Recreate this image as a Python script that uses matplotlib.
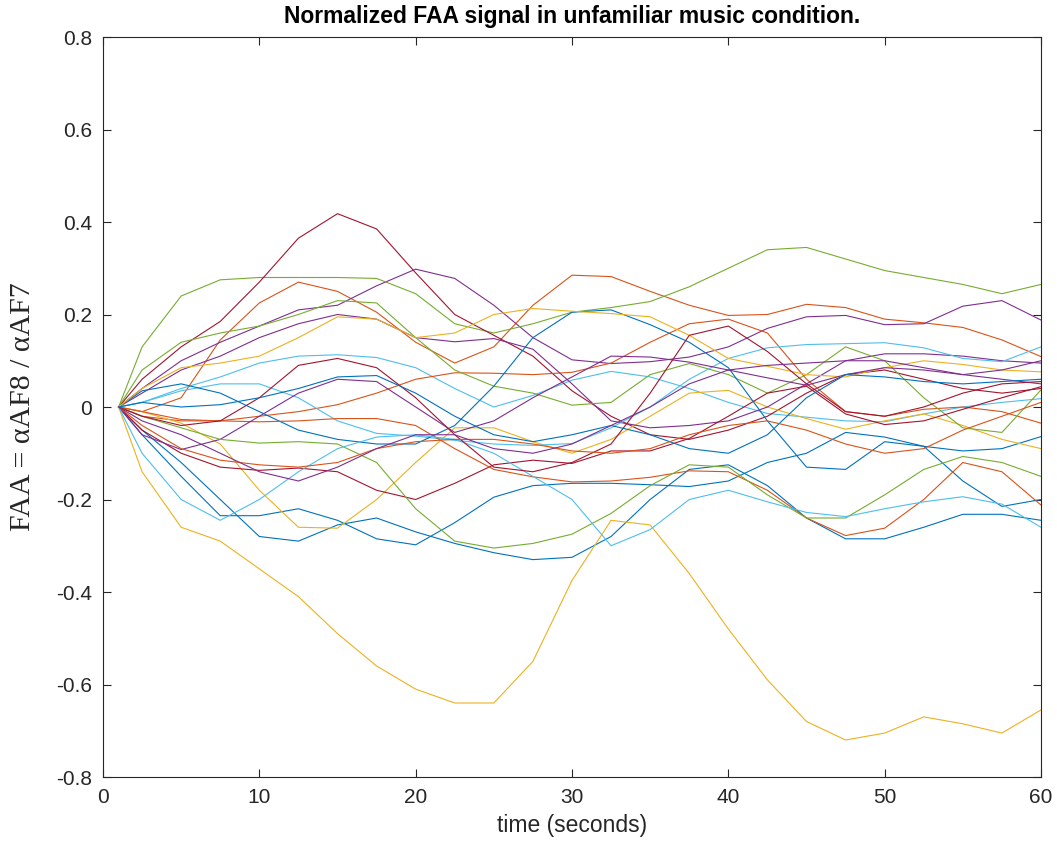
import matplotlib
matplotlib.use("Agg")
import matplotlib.pyplot as plt

# time axis (seconds) and the normalized FAA traces
t = [1, 2.5, 5, 7.5, 10, 12.5, 15, 17.5, 20, 22.5, 25, 27.5, 30,
     32.5, 35, 37.5, 40, 42.5, 45, 47.5, 50, 52.5, 55, 57.5, 60]

blue_1 = [0, -0.05, -0.12, -0.2, -0.28, -0.29, -0.255, -0.24, -0.27, -0.295, -0.315, -0.33, -0.325,
          -0.28, -0.2, -0.135, -0.125, -0.17, -0.24, -0.285, -0.285, -0.26, -0.232, -0.232, -0.245]
blue_2 = [0, -0.06, -0.15, -0.235, -0.235, -0.22, -0.245, -0.285, -0.298, -0.25, -0.195, -0.17, -0.165,
          -0.165, -0.168, -0.172, -0.16, -0.12, -0.1, -0.055, -0.065, -0.085, -0.095, -0.09, -0.064]
blue_3 = [0, 0.035, 0.05, 0.03, -0.01, -0.05, -0.07, -0.08, -0.08, -0.04, 0.045, 0.15, 0.205,
          0.21, 0.178, 0.14, 0.085, -0.03, -0.13, -0.135, -0.075, -0.085, -0.16, -0.215, -0.2]
blue_4 = [0, 0.01, 0.0, 0.005, 0.02, 0.04, 0.065, 0.068, 0.03, -0.02, -0.06, -0.075, -0.06,
          -0.04, -0.06, -0.09, -0.1, -0.06, 0.02, 0.07, 0.065, 0.055, 0.05, 0.055, 0.06]

orange_1 = [0, -0.01, 0.02, 0.145, 0.225, 0.27, 0.25, 0.205, 0.14, 0.095, 0.13, 0.22, 0.285,
            0.282, 0.25, 0.22, 0.198, 0.2, 0.222, 0.215, 0.19, 0.182, 0.172, 0.145, 0.109]
orange_2 = [0, -0.02, -0.03, -0.03, -0.02, -0.01, 0.005, 0.03, 0.06, 0.074, 0.073, 0.07, 0.075,
            0.095, 0.14, 0.18, 0.19, 0.16, 0.06, -0.01, -0.02, -0.005, 0.0, -0.01, -0.035]
orange_3 = [0, -0.01, -0.027, -0.03, -0.032, -0.03, -0.025, -0.025, -0.04, -0.09, -0.135, -0.151, -0.162,
            -0.16, -0.152, -0.138, -0.14, -0.18, -0.24, -0.278, -0.262, -0.2, -0.12, -0.14, -0.212]
orange_4 = [0, -0.04, -0.09, -0.115, -0.125, -0.13, -0.12, -0.09, -0.075, -0.07, -0.07, -0.08, -0.095,
            -0.1, -0.09, -0.06, -0.04, -0.03, -0.05, -0.08, -0.1, -0.09, -0.05, -0.02, 0.01]

yellow_1 = [0, -0.14, -0.26, -0.29, -0.35, -0.41, -0.49, -0.56, -0.61, -0.64, -0.64, -0.55, -0.375,
            -0.245, -0.255, -0.36, -0.48, -0.59, -0.68, -0.72, -0.705, -0.67, -0.685, -0.705, -0.655]
yellow_2 = [0, -0.01, -0.035, -0.08, -0.18, -0.26, -0.262, -0.2, -0.12, -0.045, -0.045, -0.075, -0.1,
            -0.07, -0.02, 0.03, 0.036, 0.0, -0.025, -0.048, -0.03, -0.015, -0.04, -0.07, -0.09]
yellow_3 = [0, 0.04, 0.085, 0.095, 0.11, 0.15, 0.195, 0.19, 0.15, 0.16, 0.2, 0.213, 0.207,
            0.202, 0.195, 0.155, 0.105, 0.088, 0.07, 0.065, 0.085, 0.1, 0.092, 0.08, 0.076]

purple_1 = [0, 0.04, 0.1, 0.14, 0.175, 0.21, 0.22, 0.262, 0.298, 0.278, 0.22, 0.15, 0.102,
            0.094, 0.098, 0.108, 0.13, 0.17, 0.195, 0.198, 0.178, 0.18, 0.218, 0.23, 0.188]
purple_2 = [0, 0.03, 0.08, 0.11, 0.15, 0.18, 0.2, 0.19, 0.15, 0.141, 0.148, 0.125, 0.05,
            -0.03, -0.045, -0.04, -0.03, 0.0, 0.05, 0.1, 0.115, 0.115, 0.11, 0.1, 0.095]
purple_3 = [0, -0.06, -0.092, -0.07, -0.02, 0.03, 0.06, 0.055, 0.0, -0.055, -0.03, 0.02, 0.065,
            0.11, 0.108, 0.097, 0.08, 0.063, 0.047, 0.07, 0.085, 0.08, 0.07, 0.06, 0.05]
purple_4 = [0, -0.03, -0.06, -0.1, -0.14, -0.16, -0.13, -0.09, -0.06, -0.06, -0.09, -0.1, -0.08,
            -0.04, 0.0, 0.05, 0.08, 0.09, 0.095, 0.1, 0.1, 0.085, 0.07, 0.08, 0.1]

green_1 = [0, 0.13, 0.24, 0.275, 0.28, 0.28, 0.28, 0.278, 0.245, 0.18, 0.16, 0.18, 0.205,
           0.215, 0.228, 0.26, 0.3, 0.34, 0.345, 0.32, 0.295, 0.28, 0.265, 0.245, 0.265]
green_2 = [0, 0.08, 0.14, 0.16, 0.175, 0.2, 0.23, 0.225, 0.15, 0.08, 0.045, 0.03, 0.004,
           0.01, 0.07, 0.094, 0.07, 0.03, 0.07, 0.13, 0.1, 0.02, -0.045, -0.055, 0.037]
green_3 = [0, -0.02, -0.045, -0.07, -0.078, -0.075, -0.08, -0.12, -0.22, -0.29, -0.305, -0.295, -0.275,
           -0.23, -0.17, -0.125, -0.13, -0.19, -0.24, -0.24, -0.19, -0.135, -0.107, -0.12, -0.15]

light_blue_1 = [0, 0.01, 0.04, 0.065, 0.095, 0.11, 0.113, 0.107, 0.085, 0.04, 0.0, 0.025, 0.058,
                0.077, 0.065, 0.04, 0.01, -0.014, -0.022, -0.03, -0.032, -0.015, 0.0, 0.01, 0.018]
light_blue_2 = [0, 0.01, 0.035, 0.05, 0.05, 0.02, -0.03, -0.057, -0.063, -0.072, -0.08, -0.083, -0.079,
                -0.045, 0.0, 0.06, 0.105, 0.128, 0.135, 0.137, 0.139, 0.128, 0.105, 0.098, 0.13]
light_blue_3 = [0, -0.1, -0.2, -0.245, -0.2, -0.14, -0.09, -0.065, -0.06, -0.07, -0.1, -0.15, -0.2,
                -0.3, -0.265, -0.2, -0.18, -0.205, -0.228, -0.237, -0.22, -0.205, -0.194, -0.21, -0.26]

red_1 = [0, 0.06, 0.13, 0.185, 0.27, 0.365, 0.418, 0.385, 0.29, 0.2, 0.155, 0.11, 0.035,
         -0.02, -0.06, -0.07, -0.05, -0.02, 0.03, 0.07, 0.08, 0.06, 0.04, 0.03, 0.04]
red_2 = [0, -0.05, -0.1, -0.13, -0.137, -0.132, -0.14, -0.18, -0.2, -0.165, -0.125, -0.115, -0.122,
         -0.095, -0.095, -0.068, -0.02, 0.03, 0.045, -0.015, -0.038, -0.03, -0.005, 0.02, 0.044]
red_3 = [0, -0.02, -0.04, -0.03, 0.02, 0.09, 0.105, 0.085, 0.02, -0.06, -0.13, -0.14, -0.12,
         -0.08, 0.03, 0.155, 0.175, 0.12, 0.05, -0.01, -0.02, 0.0, 0.03, 0.05, 0.055]

# MATLAB default colour order
BLUE, ORANGE, YELLOW, PURPLE = '#0072BD', '#D95319', '#EDB120', '#7E2F8E'
GREEN, LBLUE, DRED = '#77AC30', '#4DBEEE', '#A2142F'

traces = [(blue_1, BLUE), (orange_1, ORANGE), (yellow_1, YELLOW), (purple_1, PURPLE),
          (green_1, GREEN), (light_blue_1, LBLUE), (red_1, DRED),
          (blue_2, BLUE), (orange_2, ORANGE), (yellow_2, YELLOW), (purple_2, PURPLE),
          (green_2, GREEN), (light_blue_2, LBLUE), (red_2, DRED),
          (blue_3, BLUE), (orange_3, ORANGE), (yellow_3, YELLOW), (purple_3, PURPLE),
          (green_3, GREEN), (light_blue_3, LBLUE), (red_3, DRED),
          (blue_4, BLUE), (orange_4, ORANGE), (purple_4, PURPLE)]

plt.rcParams['axes.unicode_minus'] = False
plt.rcParams['font.family'] = ['Liberation Sans', 'DejaVu Sans']

fig = plt.figure(figsize=(10.57, 8.46), dpi=100)
ax = fig.add_axes([103/1057, 1 - 777/846, 938/1057, 740/846])

for vals, col in traces:
    ax.plot(t, vals, color=col, lw=0.8)

ax.set_xlim(0, 60)
ax.set_ylim(-0.8, 0.8)
ax.set_xticks(range(0, 61, 10))
ax.set_yticks([-0.8, -0.6, -0.4, -0.2, 0, 0.2, 0.4, 0.6, 0.8])
ax.set_yticklabels(['-0.8', '-0.6', '-0.4', '-0.2', '0', '0.2', '0.4', '0.6', '0.8'])

for s in ax.spines.values():
    s.set_color('#262626')
    s.set_linewidth(0.8)
ax.tick_params(direction='in', length=6, width=0.8, colors='#262626',
               labelsize=15, top=True, right=True, pad=8)

ax.set_title('Normalized FAA signal in unfamiliar music condition.',
             fontsize=16.5, fontweight='bold', pad=10)
ax.set_xlabel('time (seconds)', fontsize=16.5, color='#262626')
ax.xaxis.set_label_coords(0.5, -0.05)
ax.set_ylabel('FAA = αAF8 / αAF7', fontsize=21.5, family='Liberation Serif', color='#262626')
ax.yaxis.set_label_coords(-0.071, 0.5)

fig.savefig('out.png', dpi=100)
